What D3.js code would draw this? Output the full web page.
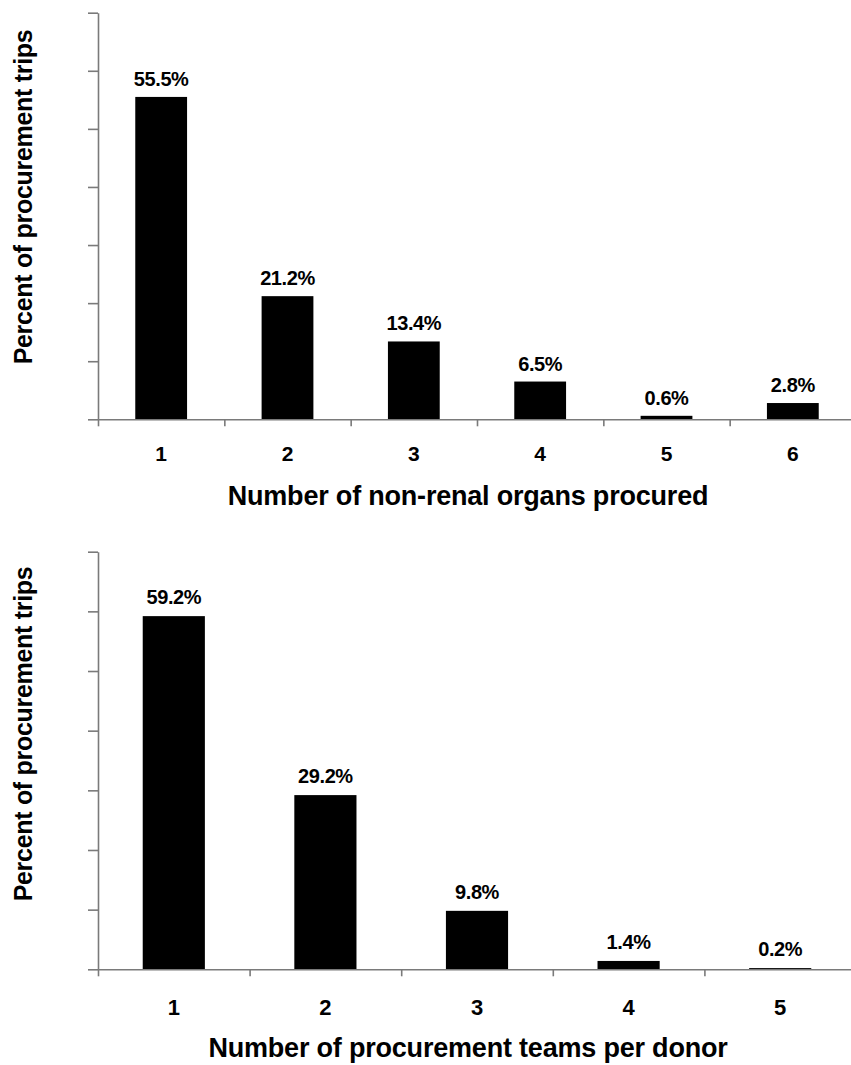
<!DOCTYPE html>
<html><head><meta charset="utf-8">
<script src="https://cdn.jsdelivr.net/npm/d3@7"></script>
<style>
body{margin:0;background:#fff}
svg text{font-family:"Liberation Sans",Arial,Helvetica,sans-serif;font-weight:bold;fill:#000}
</style>
</head><body><svg id="c" width="851" height="1065"></svg>
<script>
// ---- data ----
const organCategories = ["1","2","3","4","5","6"];
const organValues = [55.5, 21.2, 13.4, 6.5, 0.6, 2.8];
const organLabels = ["55.5%","21.2%","13.4%","6.5%","0.6%","2.8%"];
const teamCategories = ["1","2","3","4","5"];
const teamValues = [59.2, 29.2, 9.8, 1.4, 0.2];
const teamLabels = ["59.2%","29.2%","9.8%","1.4%","0.2%"];
const yTickValues = [0,10,20,30,40,50,60,70];
const yTitle = "Percent of procurement trips";
const xTitleTop = "Number of non-renal organs procured";
const xTitleBottom = "Number of procurement teams per donor";

const svg = d3.select("#c");

function panel(o){
  const g = svg.append("g");
  const x = d3.scaleBand().domain(o.cats).range([98, 856]).paddingInner(0.59).paddingOuter(0.295);
  const xb = d3.scaleLinear().domain([0, o.cats.length]).range([98, 856]);
  const y = d3.scaleLinear().domain([0, 70]).range([o.y0, o.y1]);

  // bars
  g.selectAll("rect.bar").data(o.vals).join("rect")
    .attr("class","bar")
    .attr("x",(d,i)=>x(o.cats[i]))
    .attr("width",x.bandwidth())
    .attr("y",d=>y(d))
    .attr("height",d=>y(0)-y(d))
    .attr("fill","#000");

  // value labels
  g.selectAll("text.val").data(o.vals).join("text")
    .attr("class","val")
    .attr("x",(d,i)=>x(o.cats[i])+x.bandwidth()/2)
    .attr("y",d=>y(d)-o.valGap)
    .attr("text-anchor","middle")
    .style("font-size",o.valSize+"px")
    .style("letter-spacing","-0.4px")
    .text((d,i)=>o.labels[i]);

  // y axis
  const ya = g.append("g").attr("transform","translate(98,0)")
    .call(d3.axisLeft(y).tickValues(yTickValues).tickSize(10).tickSizeOuter(0).tickFormat(""));
  ya.selectAll("path,line").attr("stroke","#7a7a7a").attr("stroke-width",1.6);

  // x axis (boundary ticks)
  const xa = g.append("g").attr("transform",`translate(0,${o.y0})`)
    .call(d3.axisBottom(xb).tickValues(d3.range(0,o.cats.length+1)).tickSize(7).tickSizeOuter(0).tickFormat(""));
  xa.selectAll("path,line").attr("stroke","#7a7a7a").attr("stroke-width",1.6);

  // category labels
  g.selectAll("text.cat").data(o.cats).join("text")
    .attr("class","cat")
    .attr("x",d=>x(d)+x.bandwidth()/2)
    .attr("y",o.catY)
    .attr("text-anchor","middle")
    .style("font-size",o.catSize+"px")
    .text(d=>d);

  // x title
  g.append("text").attr("x",o.xTitleX).attr("y",o.xTitleY)
    .attr("text-anchor","middle").style("font-size",o.xTitleSize+"px")
    .style("letter-spacing","-0.2px")
    .text(o.xTitle);

  // y title
  g.append("text").attr("transform",`translate(${o.yTitleX},${o.yTitleY}) rotate(-90)`)
    .attr("text-anchor","middle").style("font-size","25px")
    .style("letter-spacing","-0.3px")
    .text(yTitle);
}

panel({cats:organCategories, vals:organValues, labels:organLabels,
  y0:419.3, y1:12.7, valGap:11, valSize:20, catY:461, catSize:21,
  xTitle:xTitleTop, xTitleX:468, xTitleY:505, xTitleSize:27,
  yTitleX:32, yTitleY:197});

panel({cats:teamCategories, vals:teamValues, labels:teamLabels,
  y0:969.3, y1:551.7, valGap:12, valSize:20, catY:1015, catSize:22,
  xTitle:xTitleBottom, xTitleX:468, xTitleY:1057, xTitleSize:27,
  yTitleX:32, yTitleY:734});
</script>
</body></html>
